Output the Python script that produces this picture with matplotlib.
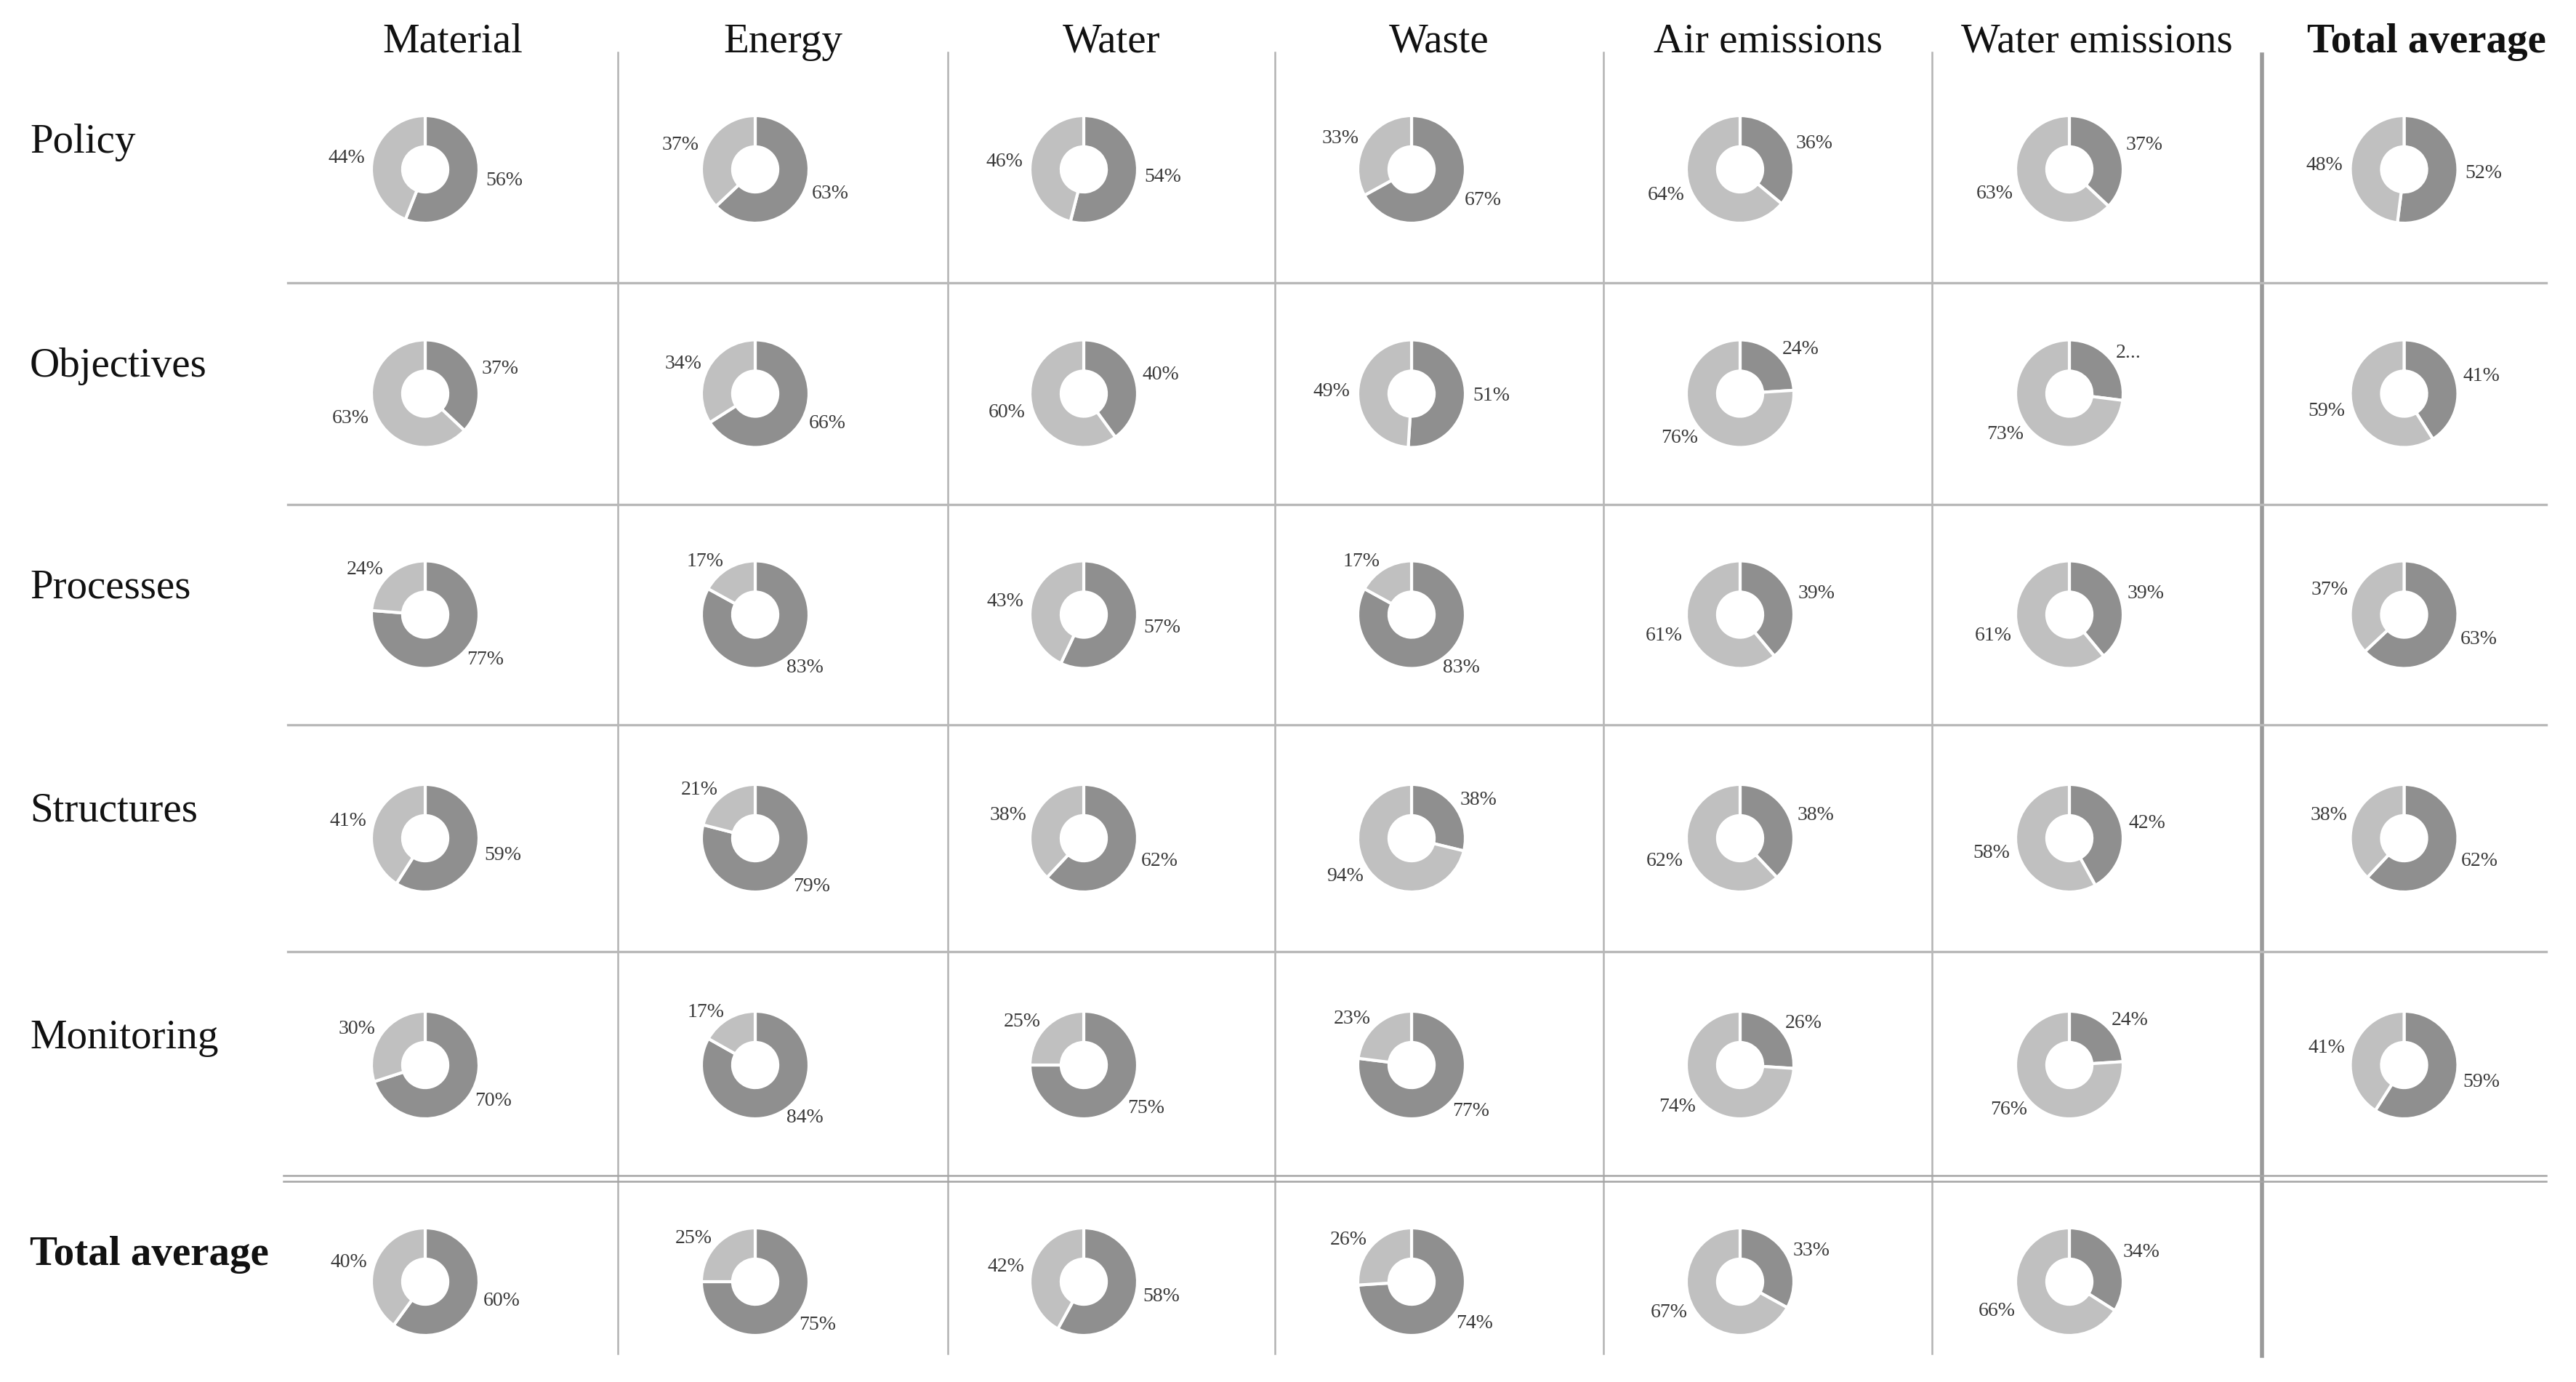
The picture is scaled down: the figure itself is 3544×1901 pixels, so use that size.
import matplotlib
matplotlib.use("Agg")
import matplotlib.pyplot as plt

# categories
columns = ["Material", "Energy", "Water", "Waste", "Air emissions", "Water emissions", "Total average"]
rows = ["Policy", "Objectives", "Processes", "Structures", "Monitoring", "Total average"]

# share of "yes" (dark) and "no" (light) per column, one pair of lists per row
policy_yes = [56, 63, 54, 67, 36, 37, 52]
policy_no = [44, 37, 46, 33, 64, 63, 48]
objectives_yes = [37, 66, 40, 51, 24, 27, 41]
objectives_no = [63, 34, 60, 49, 76, 73, 59]
processes_yes = [77, 83, 57, 83, 39, 39, 63]
processes_no = [24, 17, 43, 17, 61, 61, 37]
structures_yes = [59, 79, 62, 38, 38, 42, 62]
structures_no = [41, 21, 38, 94, 62, 58, 38]
monitoring_yes = [70, 84, 75, 77, 26, 24, 59]
monitoring_no = [30, 17, 25, 23, 74, 76, 41]
total_yes = [60, 75, 58, 74, 33, 34]
total_no = [40, 25, 42, 26, 67, 66]

yes_rows = [policy_yes, objectives_yes, processes_yes, structures_yes, monitoring_yes, total_yes]
no_rows = [policy_no, objectives_no, processes_no, structures_no, monitoring_no, total_no]

# label that was cut off in the original
label_override = {(1, 5): "2..."}

W, H = 3544, 1901
DARK = "#8f8f8f"
LIGHT = "#c0c0c0"

# table geometry in pixels
col_edges = [396, 850, 1304, 1754, 2206, 2658, 3112, 3560]
row_edges = [77, 389, 694, 997, 1309, 1621, 1905]
R_PX = 74      # outer radius of a donut
HALF = 190     # half size of each donut axes

fig = plt.figure(figsize=(W / 100, H / 100), dpi=100)
bg = fig.add_axes([0, 0, 1, 1])
bg.set_xlim(0, W)
bg.set_ylim(H, 0)
bg.axis("off")

serif = ["Liberation Serif", "DejaVu Serif"]

# grid lines
for x in col_edges[1:6]:
    bg.plot([x, x], [72, 1862], color="#b3b3b3", lw=1.8)
bg.plot([col_edges[6], col_edges[6]], [75, 1865], color="#9a9a9a", lw=4)
for y in row_edges[1:5]:
    bg.plot([396, 3503], [y, y], color="#b8b8b8", lw=2.4)
for y in (row_edges[5] - 4, row_edges[5] + 4):
    bg.plot([390, 3503], [y, y], color="#a5a5a5", lw=1.8)

# column headers
for j, name in enumerate(columns):
    cx = (col_edges[j] + col_edges[j + 1]) / 2 if j < 6 else 3338
    bg.text(cx, 58, name, ha="center", va="center", fontsize=41, family=serif,
            fontweight="bold" if name == "Total average" else "normal", color="#111111")

# donuts
for i, name in enumerate(rows):
    cy = (row_edges[i] + row_edges[i + 1]) / 2
    bg.text(41, cy - 37, name, ha="left", va="center", fontsize=41, family=serif,
            fontweight="bold" if name == "Total average" else "normal", color="#111111")
    for j in range(len(yes_rows[i])):
        yes = yes_rows[i][j]
        no = no_rows[i][j]
        if j < 6:
            cx = (col_edges[j] + col_edges[j + 1]) / 2 - 38
        else:
            cx = (col_edges[6] + 3503) / 2
        ax = fig.add_axes([(cx - HALF) / W, 1 - (cy + HALF) / H, 2 * HALF / W, 2 * HALF / H])
        labels = [label_override.get((i, j), f"{yes}%"), f"{no}%"]
        ax.pie([yes, no], labels=labels, colors=[DARK, LIGHT], startangle=90,
               counterclock=False, labeldistance=1.14,
               wedgeprops=dict(width=0.58, edgecolor="white", linewidth=3),
               textprops=dict(fontsize=20, family=serif, color="#3a3a3a"))
        lim = HALF / R_PX
        ax.set_xlim(-lim, lim)
        ax.set_ylim(-lim, lim)
        ax.set_aspect("equal")
        ax.axis("off")

fig.savefig("out.png", dpi=100, facecolor="white")
